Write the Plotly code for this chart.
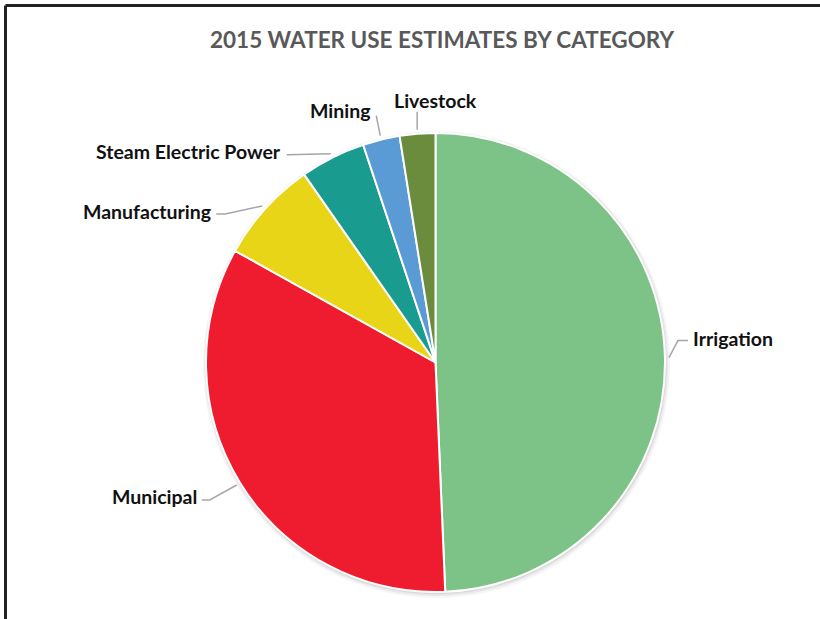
import math
import plotly.graph_objects as go

# 2015 water use estimates, share of total (%) by category
categories = ["Irrigation", "Municipal", "Manufacturing", "Steam Electric Power", "Mining", "Livestock"]
shares = [49.3, 33.75, 7.2, 4.6, 2.6, 2.5]
colors = ["#7DC287", "#EE1C2E", "#E8D518", "#1A9B8F", "#5B9BD5", "#6A8C3C"]

TITLE = "2015 WATER USE ESTIMATES BY CATEGORY"

W, H = 820, 619
CX, CY, R = 435.5, 362.5, 229.5

# leader-line layout per label: (elbow dx, elbow dy, tail dx, label dx, label dy, anchor)
leader_style = {
    "Irrigation": (9, -17, 10, 3, -2, "left"),
    "Municipal": (-27, 15, -8, -3, -4, "right"),
    "Manufacturing": (-37, 8, -9, -3, -2, "right"),
    "Steam Electric Power": (-44, 1, 0, -4, -3, "right"),
    "Mining": (-4, -20, 0, -3.5, -5, "right"),
    "Livestock": (0, -18, 0, 18.5, -11, "center"),
}

LABEL_FONT = dict(family="Lato, 'Open Sans', sans-serif", size=19.5, color="#111111")


def px(x):
    return x / W


def py(y):
    return 1 - y / H


fig = go.Figure(
    go.Pie(
        labels=categories,
        values=shares,
        sort=False,
        direction="clockwise",
        rotation=0,
        marker=dict(colors=colors, line=dict(color="white", width=2)),
        textinfo="none",
        hoverinfo="label+percent",
        showlegend=False,
        domain=dict(x=[px(CX - R), px(CX + R)], y=[py(CY + R), py(CY - R)]),
    )
)

shapes = []
annotations = []

# soft shadow ring under the pie
for grow, off, alpha in [(4, 2, 0.035), (2.5, 1.5, 0.05), (1.2, 1, 0.07)]:
    shapes.append(dict(
        type="circle", xref="paper", yref="paper", layer="below",
        x0=px(CX - R - grow + off * 0.5), x1=px(CX + R + grow + off * 0.5),
        y0=py(CY + R + grow + off), y1=py(CY - R - grow + off),
        fillcolor=f"rgba(0,0,0,{alpha})", line=dict(width=0),
    ))

# leader lines and labels placed from each slice's mid angle
total = sum(shares)
start = 0.0
for name, v in zip(categories, shares):
    sweep = v / total * 360
    mid = math.radians(start + sweep / 2)
    start += sweep
    ex = CX + (R + 4) * math.sin(mid)
    ey = CY - (R + 4) * math.cos(mid)
    dx, dy, tail, ldx, ldy, anchor = leader_style[name]
    bx, by = ex + dx, ey + dy
    endx, endy = bx + tail, by
    shapes.append(dict(
        type="path", xref="paper", yref="paper",
        path=f"M {px(ex)},{py(ey)} L {px(bx)},{py(by)} L {px(endx)},{py(endy)}",
        line=dict(color="#A6A6A6", width=1.5),
    ))
    annotations.append(dict(
        x=px(endx + ldx), y=py(endy + ldy), xref="paper", yref="paper",
        text=f"<b>{name}</b>", showarrow=False, xanchor=anchor, yanchor="middle",
        font=LABEL_FONT,
    ))

# frame along the top and left edges
shapes.append(dict(type="line", xref="paper", yref="paper",
                   x0=px(5.5), x1=1.01, y0=py(5.5), y1=py(5.5),
                   line=dict(color="#222222", width=3)))
shapes.append(dict(type="line", xref="paper", yref="paper",
                   x0=px(5.5), x1=px(5.5), y0=py(5.5), y1=-0.01,
                   line=dict(color="#222222", width=3)))

annotations.append(dict(
    x=px(442.5), y=py(39), xref="paper", yref="paper",
    text=f"<b>{TITLE}</b>", showarrow=False, xanchor="center", yanchor="middle",
    font=dict(family="Lato, 'Open Sans', sans-serif", size=22.5, color="#595959"),
))

fig.update_layout(
    width=W, height=H,
    margin=dict(l=0, r=0, t=0, b=0),
    paper_bgcolor="white",
    plot_bgcolor="white",
    shapes=shapes,
    annotations=annotations,
)

fig.write_html("out.html")
